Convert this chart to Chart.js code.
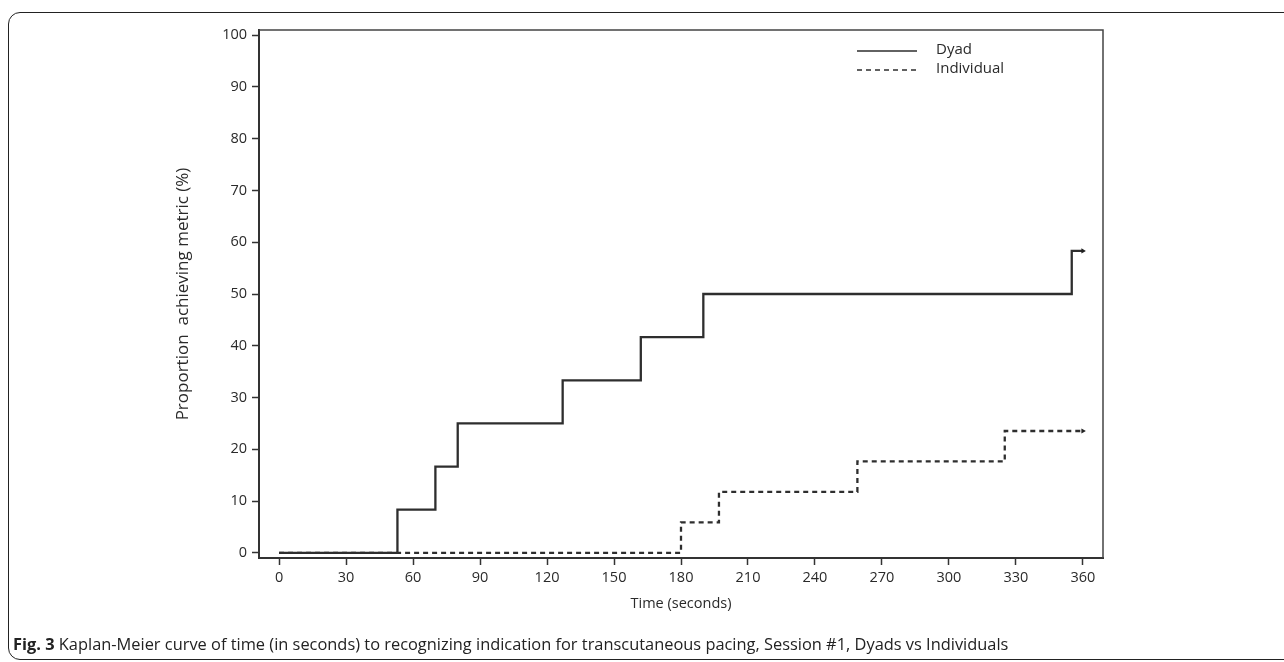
<!DOCTYPE html>
<html>
<head>
<meta charset="utf-8">
<script src="https://cdn.jsdelivr.net/npm/chart.js@4.4.0/dist/chart.umd.min.js"></script>
<style>
  html, body { margin: 0; padding: 0; background: #fff; }
  #wrap { position: relative; width: 1284px; height: 662px; overflow: hidden; }
  #frame { position: absolute; left: 8px; top: 12px; width: 1300px; height: 648px; border: 1.5px solid #222; border-radius: 12px; box-sizing: border-box; }
  #c { position: absolute; left: 0; top: 0; }
  #caption { position: absolute; left: 13px; top: 632px; font-family: "Open Sans", sans-serif; font-size: 16.4px; color: #222; white-space: nowrap; }
  #caption b { font-weight: 700; }
</style>
</head>
<body>
<div id="wrap">
  <div id="frame"></div>
  <canvas id="c" width="1284" height="662"></canvas>
  <div id="caption"><b>Fig. 3</b> Kaplan-Meier curve of time (in seconds) to recognizing indication for transcutaneous pacing, Session #1, Dyads vs Individuals</div>
</div>
<script>
// ---- data ----
const seriesNames = ["Dyad", "Individual"];
const dyadTimes = [0, 53, 70, 80, 127, 162, 190, 355, 360];
const dyadValues = [0, 8.33, 16.67, 25, 33.33, 41.67, 50, 58.33, 58.33];
const indivTimes = [0, 180, 197, 259, 325, 360];
const indivValues = [0, 5.88, 11.76, 17.65, 23.53, 23.53];
const xTicks = [0, 30, 60, 90, 120, 150, 180, 210, 240, 270, 300, 330, 360];
const yTicks = [0, 10, 20, 30, 40, 50, 60, 70, 80, 90, 100];
const xTitle = "Time (seconds)";
const yTitle = "Proportion  achieving metric (%)";

const toPts = (t, v) => t.map((x, i) => ({ x: x, y: v[i] }));
const endRadius = (n, r) => Array.from({ length: n }, (_, i) => (i === n - 1 ? r : 0));

const FONT = "'Open Sans', sans-serif";
const INK = "#2a2a2a";
const LINE = "#2e2e2e";

const boxPlugin = {
  id: "box",
  afterDraw(chart) {
    const { ctx, chartArea: a } = chart;
    ctx.save();
    ctx.strokeStyle = "#444";
    ctx.lineWidth = 1.5;
    ctx.beginPath();
    ctx.moveTo(a.left, a.top);
    ctx.lineTo(a.right, a.top);
    ctx.lineTo(a.right, a.bottom);
    ctx.stroke();
    // legend
    const lx = a.right - 246, tx = a.right - 167;
    const rows = [a.top + 21, a.top + 40];
    chart.data.datasets.forEach((ds, i) => {
      ctx.strokeStyle = ds.borderColor;
      ctx.lineWidth = 1.6;
      ctx.setLineDash(ds.borderDash || []);
      ctx.beginPath();
      ctx.moveTo(lx, rows[i]);
      ctx.lineTo(lx + 60, rows[i]);
      ctx.stroke();
      ctx.setLineDash([]);
      ctx.fillStyle = INK;
      ctx.font = "15px " + FONT;
      ctx.textBaseline = "middle";
      ctx.textAlign = "left";
      ctx.fillText(ds.label, tx, rows[i] - 1);
    });
    ctx.restore();
  }
};

new Chart(document.getElementById("c"), {
  type: "line",
  data: {
    datasets: [
      {
        label: seriesNames[0],
        data: toPts(dyadTimes, dyadValues),
        stepped: true,
        borderColor: LINE,
        borderWidth: 2.3,
        pointRadius: endRadius(dyadTimes.length, 3),
        pointStyle: "triangle",
        pointRotation: 90,
        pointBackgroundColor: "#222",
        pointBorderColor: "#222",
        pointBorderWidth: 0
      },
      {
        label: seriesNames[1],
        data: toPts(indivTimes, indivValues),
        stepped: true,
        borderColor: LINE,
        borderWidth: 2.3,
        borderDash: [5, 4],
        pointRadius: endRadius(indivTimes.length, 3),
        pointStyle: "triangle",
        pointRotation: 90,
        pointBackgroundColor: "#222",
        pointBorderColor: "#222",
        pointBorderWidth: 0
      }
    ]
  },
  options: {
    responsive: false,
    animation: false,
    events: [],
    layout: { padding: { left: 173, top: 30, right: 181, bottom: 49 } },
    plugins: { legend: { display: false }, tooltip: { enabled: false } },
    scales: {
      x: {
        type: "linear",
        min: -9,
        max: 369,
        afterBuildTicks: s => { s.ticks = xTicks.map(v => ({ value: v })); },
        afterFit: s => { s.height = 55; },
        border: { display: true, color: "#333", width: 2 },
        grid: { drawOnChartArea: false, tickLength: 7, tickColor: "#333", tickWidth: 1.5 },
        ticks: { color: INK, font: { family: FONT, size: 14.5 }, padding: 4, maxRotation: 0 },
        title: { display: true, text: xTitle, color: INK, font: { family: FONT, size: 14.5 }, padding: 0 }
      },
      y: {
        type: "linear",
        min: -1,
        max: 101,
        afterBuildTicks: s => { s.ticks = yTicks.map(v => ({ value: v })); },
        afterFit: s => { s.width = 86; },
        border: { display: true, color: "#333", width: 2 },
        grid: { drawOnChartArea: false, tickLength: 7, tickColor: "#333", tickWidth: 1.5 },
        ticks: { color: INK, font: { family: FONT, size: 14.5 }, padding: 5 },
        title: { display: true, text: yTitle, color: INK, font: { family: FONT, size: 17 }, padding: 0 }
      }
    }
  },
  plugins: [boxPlugin]
});
</script>
</body>
</html>
